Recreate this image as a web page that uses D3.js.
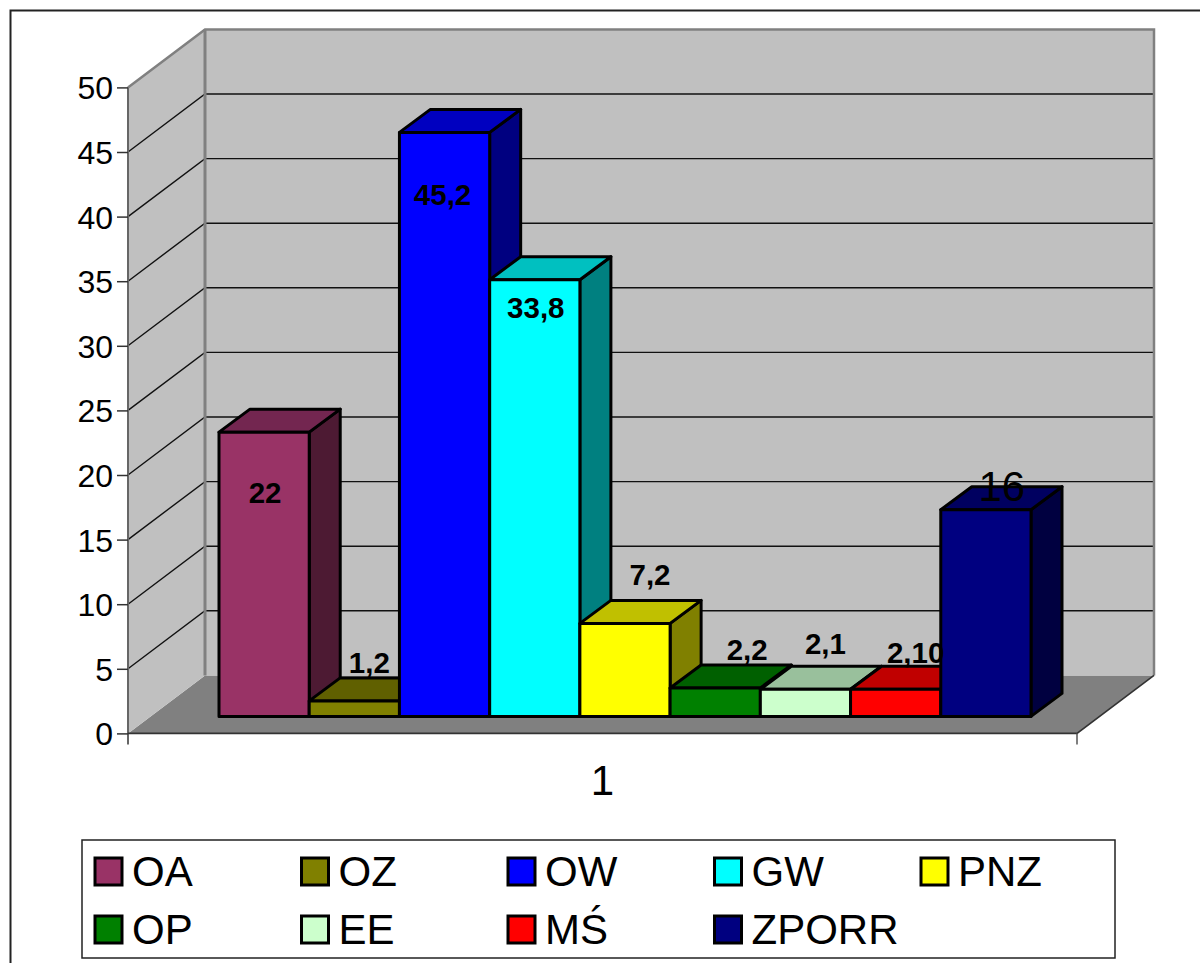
<!DOCTYPE html>
<html><head><meta charset="utf-8">
<script src="https://cdn.jsdelivr.net/npm/d3@7"></script>
<style>html,body{margin:0;padding:0;background:#fff;overflow:hidden}svg{display:block}text{font-family:"Liberation Sans",Arial,sans-serif;fill:#000}</style>
</head><body><svg id="c" width="1200" height="963"></svg>
<script>
const seriesNames = ["OA","OZ","OW","GW","PNZ","OP","EE","MŚ","ZPORR"];
const seriesValues = [22,1.2,45.2,33.8,7.2,2.2,2.1,2.1,16];
const valueLabels = ["22","1,2","45,2","33,8","7,2","2,2","2,1","2,10","16"];
const seriesColors = ["#993366","#808000","#0000ff","#00ffff","#ffff00","#008000","#ccffcc","#ff0000","#000080"];
const topColors = ["#732650","#606000","#0000c0","#00c0c0","#c0c000","#006000","#99c09c","#c00000","#000060"];
const sideColors = ["#4d1a33","#404000","#000080","#008080","#808000","#004000","#668066","#800000","#000040"];
const yTicks = [0,5,10,15,20,25,30,35,40,45,50];
const categoryLabel = "1";
const labelShift = [[1,60],[15,-38],[-2,62],[1,28],[25,-49],[32,-38],[20,-46],[20,-37],[16,-23]];
const labelBold = [1,1,1,1,1,1,1,1,0];

const svg = d3.select("#c");
const y = d3.scaleLinear().domain([0,50]).range([733.4,87.4]);
const frontX0 = 128, frontX1 = 1077, wallDx = 77, wallDy = -58;
const barDx = 31, barDy = -23, barLift = -17;
const x = d3.scaleBand().domain(seriesNames).range([219,1031]);

// frame
svg.append("path").attr("d","M10.5,963V10.5H1200").attr("fill","none").attr("stroke","#222").attr("stroke-width",2);

// walls and floor
const poly = (pts)=> "M"+pts.map(p=>p.join(",")).join("L")+"Z";
svg.append("path").attr("d",poly([[frontX0,y(0)],[frontX1,y(0)],[frontX1+wallDx,y(0)+wallDy],[frontX0+wallDx,y(0)+wallDy]])).attr("fill","#808080");
svg.append("path").attr("d",poly([[frontX0,y(0)],[frontX0,y(50)],[frontX0+wallDx,y(50)+wallDy],[frontX0+wallDx,y(0)+wallDy]])).attr("fill","#c0c0c0");
svg.append("rect").attr("x",frontX0+wallDx).attr("y",y(50)+wallDy).attr("width",frontX1-frontX0).attr("height",y(0)-y(50)).attr("fill","#c0c0c0");

// gridlines
const grid = yTicks.filter(t=>t>0&&t<50);
svg.append("g").selectAll("path").data(grid).join("path")
  .attr("d",t=>`M${frontX0},${y(t)}L${frontX0+wallDx},${y(t)+wallDy}H${frontX1+wallDx}`)
  .attr("fill","none").attr("stroke","#111").attr("stroke-width",1.4);

// wall borders
svg.append("path").attr("d",`M${frontX0},${y(50)}L${frontX0+wallDx},${y(50)+wallDy}H${frontX1+wallDx}V${y(0)+wallDy}`)
  .attr("fill","none").attr("stroke","#808080").attr("stroke-width",2.5);
svg.append("path").attr("d",`M${frontX0+wallDx},${y(50)+wallDy}V${y(0)+wallDy}`).attr("fill","none").attr("stroke","#808080").attr("stroke-width",3);
svg.append("path").attr("d",`M${frontX0},${y(50)}V${y(0)+11}`).attr("fill","none").attr("stroke","#666").attr("stroke-width",2);
svg.append("path").attr("d",`M${frontX0},${y(0)}H${frontX1}L${frontX1+wallDx},${y(0)+wallDy}`).attr("fill","none").attr("stroke","#333").attr("stroke-width",1.6);
svg.append("path").attr("d",`M${frontX1},${y(0)}V${y(0)+11}`).attr("fill","none").attr("stroke","#555").attr("stroke-width",1.5);

// axis ticks and labels
const axis = svg.append("g").attr("transform",`translate(${frontX0},0)`)
  .call(d3.axisLeft(y).tickValues(yTicks).tickSize(11).tickPadding(4));
axis.select(".domain").remove();
axis.selectAll("line").attr("stroke","#333").attr("stroke-width",1.5);
axis.selectAll("text").attr("font-size",32).attr("font-family",'"Liberation Sans"').attr("dy","0.36em").attr("fill","#000");

// bars
function applyStroke(s){ return s.attr("stroke","#000").attr("stroke-width",3).attr("stroke-linejoin","round"); }
const bars = svg.append("g").selectAll("g").data(seriesNames).join("g");
bars.each(function(n,i){
  const g = d3.select(this);
  const x0 = x(n), x1 = x0 + x.bandwidth();
  const yb = y(0)+barLift, yt = y(seriesValues[i])+barLift;
  applyStroke(g.append("path").attr("d",poly([[x1,yb],[x1,yt],[x1+barDx,yt+barDy],[x1+barDx,yb+barDy]])).attr("fill",sideColors[i]));
  applyStroke(g.append("path").attr("d",poly([[x0,yt],[x1,yt],[x1+barDx,yt+barDy],[x0+barDx,yt+barDy]])).attr("fill",topColors[i]));
  applyStroke(g.append("rect").attr("x",x0).attr("y",yt).attr("width",x1-x0).attr("height",yb-yt).attr("fill",seriesColors[i]));
});

// value labels
svg.append("g").selectAll("text").data(seriesNames).join("text")
  .attr("x",(n,i)=>x(n)+x.bandwidth()/2+labelShift[i][0])
  .attr("y",(n,i)=>y(seriesValues[i])+barLift+labelShift[i][1])
  .attr("text-anchor","middle").attr("dominant-baseline","central")
  .attr("font-size",(n,i)=>labelBold[i]?29.5:42)
  .attr("font-weight",(n,i)=>labelBold[i]?"bold":"normal")
  .text((n,i)=>valueLabels[i]);

// category label
svg.append("text").attr("x",(frontX0+frontX1)/2).attr("y",795).attr("text-anchor","middle").attr("font-size",42).text(categoryLabel);

// legend
svg.append("rect").attr("x",82).attr("y",840).attr("width",1033).attr("height",118).attr("fill","#fff").attr("stroke","#222").attr("stroke-width",1.5);
const legX = d3.scalePoint().domain(d3.range(5)).range([94,920]);
const legY = d3.scalePoint().domain([0,1]).range([857,915]);
const leg = svg.append("g").selectAll("g").data(seriesNames).join("g")
  .attr("transform",(n,i)=>`translate(${legX(i%5)},${legY(Math.floor(i/5))})`);
leg.append("rect").attr("x",1).attr("y",1).attr("width",27).attr("height",27).attr("fill",(n,i)=>seriesColors[i]).attr("stroke","#000").attr("stroke-width",3);
leg.append("text").attr("x",38).attr("y",29).attr("font-size",42).text(n=>n);
</script></body></html>
